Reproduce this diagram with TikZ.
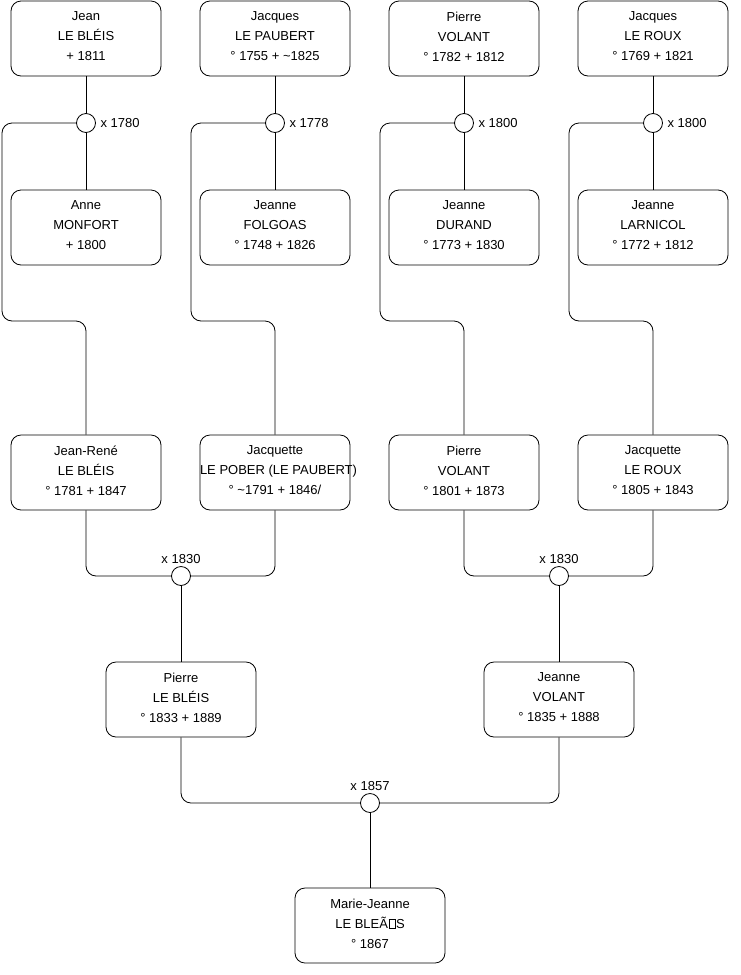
\documentclass[tikz,border=0pt]{standalone}
\usepackage{fontspec}
\setmainfont{Liberation Sans}
\usetikzlibrary{positioning}
\newcommand\missglyph{{\setlength{\fboxsep}{0pt}\setlength{\fboxrule}{0.5pt}\kern0.5pt\raisebox{0.3pt}{\fbox{\rule{0pt}{8.5pt}\hspace{6pt}}}\kern0.5pt}}
\begin{document}
\begin{tikzpicture}[x=1pt,y=-1pt,
  person/.style={draw, rectangle, rounded corners=10pt, minimum width=150pt, minimum height=75pt,
    align=center, inner sep=0pt, text depth=4pt, font=\fontsize{13}{20}\selectfont, line width=0.8pt},
  wed/.style={draw, circle, minimum size=19pt, inner sep=0pt, fill=white, line width=0.8pt},
  lbl/.style={font=\fontsize{13}{15}\selectfont, inner sep=0pt},
  link/.style={line width=0.8pt, rounded corners=10pt}]
\useasboundingbox[fill=white] (0,0) rectangle (740,975);
% row 1
\node[person] (p1) at (86,38.5) {Jean\\LE BLÉIS\\+ 1811};
\node[person] (p2) at (275,38.5) {Jacques\\LE PAUBERT\\° 1755 + \textasciitilde1825};
\node[person] (p3) at (464,38.5) {Pierre\\VOLANT\\° 1782 + 1812};
\node[person] (p4) at (653,38.5) {Jacques\\LE ROUX\\° 1769 + 1821};
% row 2
\node[person] (q1) at (86,227.5) {Anne\\MONFORT\\+ 1800};
\node[person] (q2) at (275,227.5) {Jeanne\\FOLGOAS\\° 1748 + 1826};
\node[person] (q3) at (464,227.5) {Jeanne\\DURAND\\° 1773 + 1830};
\node[person] (q4) at (653,227.5) {Jeanne\\LARNICOL\\° 1772 + 1812};
% row 3
\node[person] (r1) at (86,472.5) {Jean-René\\LE BLÉIS\\° 1781 + 1847};
\node[person] (r2) at (275,472.5) {Jacquette\\\makebox[150pt][l]{LE POBER (LE PAUBERT)}\\° \textasciitilde1791 + 1846/};
\node[person] (r3) at (464,472.5) {Pierre\\VOLANT\\° 1801 + 1873};
\node[person] (r4) at (653,472.5) {Jacquette\\LE ROUX\\° 1805 + 1843};
% row 4
\node[person] (s1) at (181,699.5) {Pierre\\LE BLÉIS\\° 1833 + 1889};
\node[person] (s2) at (559,699.5) {Jeanne\\VOLANT\\° 1835 + 1888};
% row 5
\node[person] (t1) at (370,925.5) {Marie-Jeanne\\LE BLEÃ\missglyph S\\° 1867};
% marriages
\node[wed] (m1) at (86,123) {};
\node[wed] (m2) at (275,123) {};
\node[wed] (m3) at (464,123) {};
\node[wed] (m4) at (653,123) {};
\node[wed] (m5) at (181,576) {};
\node[wed] (m6) at (559,576) {};
\node[wed] (m7) at (370,803) {};
\node[lbl, anchor=west] (l1) at ([xshift=4.5pt]m1.east) {x 1780};
\node[lbl, anchor=west] (l2) at ([xshift=4.5pt]m2.east) {x 1778};
\node[lbl, anchor=west] (l3) at ([xshift=4.5pt]m3.east) {x 1800};
\node[lbl, anchor=west] (l4) at ([xshift=4.5pt]m4.east) {x 1800};
\node[lbl, anchor=south] (l5) at ([yshift=2.5pt]m5.north) {x 1830};
\node[lbl, anchor=south] (l6) at ([yshift=2.5pt]m6.north) {x 1830};
\node[lbl, anchor=south] (l7) at ([yshift=2.5pt]m7.north) {x 1857};
% corner coordinates
\coordinate (k1) at (2,321);
\coordinate (k2) at (191,321);
\coordinate (k3) at (380,321);
\coordinate (k4) at (569,321);
% links
\foreach \i in {1,2,3,4}{
  \draw[link] (p\i.south) -- (m\i.north);
  \draw[link] (m\i.south) -- (q\i.north);
  \draw[link] (m\i.west) -| (k\i) -| (r\i.north);
}
\draw[link] (r1.south) |- (m5.west);
\draw[link] (r2.south) |- (m5.east);
\draw[link] (r3.south) |- (m6.west);
\draw[link] (r4.south) |- (m6.east);
\draw[link] (m5.south) -- (s1.north);
\draw[link] (m6.south) -- (s2.north);
\draw[link] (s1.south) |- (m7.west);
\draw[link] (s2.south) |- (m7.east);
\draw[link] (m7.south) -- (t1.north);
\end{tikzpicture}
\end{document}
